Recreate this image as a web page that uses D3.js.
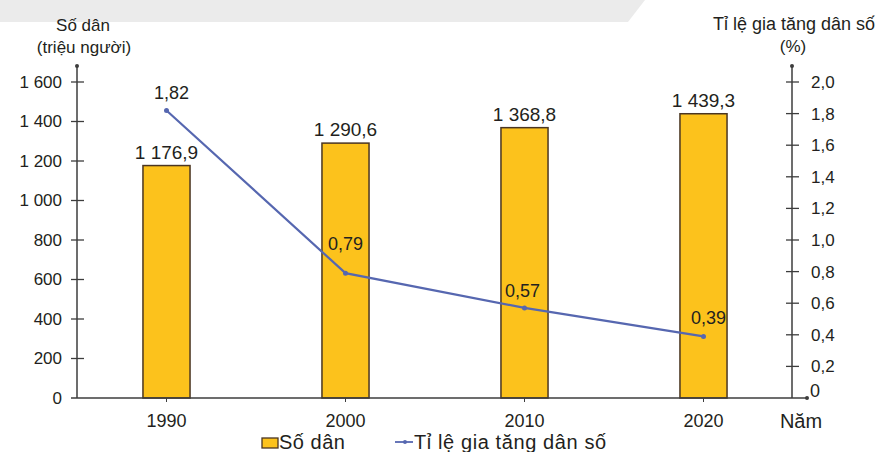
<!DOCTYPE html>
<html lang="vi">
<head>
<meta charset="UTF-8">
<title>Số dân và tỉ lệ gia tăng dân số</title>
<script src="https://d3js.org/d3.v7.min.js"></script>
<style>
  body { margin: 0; background: #fff; }
  svg { display: block; font-family: "Liberation Sans", Arial, sans-serif; }
  text { fill: #231f20; }
</style>
</head>
<body>
<div id="chart"></div>
<script>
// dữ liệu
const years = ["1990", "2000", "2010", "2020"];
const population = [1176.9, 1290.6, 1368.8, 1439.3];
const growthRate = [1.82, 0.79, 0.57, 0.39];
const popTicks = [0, 200, 400, 600, 800, 1000, 1200, 1400, 1600];
const rateTicks = [0, 0.2, 0.4, 0.6, 0.8, 1.0, 1.2, 1.4, 1.6, 1.8, 2.0];

// vị trí nhãn của đường (dx, dy so với điểm)
const rateLabelOffset = [[5, -11], [0, -23], [-2, -11], [5, -12]];

const width = 888, height = 452;
const x0 = 77, x1 = 793, yBase = 398, yTop = 82;

const vn = d3.formatLocale({ decimal: ",", thousands: " ", grouping: [3], currency: ["", ""] });
const fmtPop = vn.format(",.1f");
const fmtInt = vn.format(",d");
const fmtRate1 = vn.format(".1f");
const fmtRate2 = vn.format(".2f");

const svg = d3.select("#chart").append("svg")
  .attr("width", width).attr("height", height);

// dải xám phía trên
svg.append("path")
  .attr("d", "M0,0 L645,0 L628,22 L0,22 Z")
  .attr("fill", "#ebebeb");

const x = d3.scaleBand().domain(years).range([x0, x1])
  .paddingInner(0.737).paddingOuter(0.3685);
const yPop = d3.scaleLinear().domain([0, 1600]).range([yBase, yTop]);
const yRate = d3.scaleLinear().domain([0, 2.0]).range([yBase, yTop]);

const axisColor = "#3d3d3d";

// cột
svg.selectAll(".bar").data(population).enter().append("rect")
  .attr("class", "bar")
  .attr("x", (d, i) => x(years[i]))
  .attr("y", d => yPop(d))
  .attr("width", x.bandwidth())
  .attr("height", d => yBase - yPop(d))
  .attr("fill", "#fcc21c")
  .attr("stroke", "#4a3522")
  .attr("stroke-width", 1.5);

svg.selectAll(".barlabel").data(population).enter().append("text")
  .attr("x", (d, i) => x(years[i]) + x.bandwidth() / 2)
  .attr("y", d => yPop(d) - 7)
  .attr("text-anchor", "middle")
  .attr("font-size", 19)
  .text(d => fmtPop(d));

// trục trái
const leftAxis = d3.axisLeft(yPop).tickValues(popTicks).tickSize(0).tickPadding(15)
  .tickFormat(d => fmtInt(d));
const gl = svg.append("g").attr("transform", `translate(${x0},0)`).call(leftAxis);
gl.select(".domain").remove();
gl.selectAll("text").attr("font-size", 17).attr("fill", "#231f20").attr("font-family", null);
svg.append("g").selectAll("line").data(popTicks.slice(1)).enter().append("line")
  .attr("x1", x0 - 6).attr("x2", x0 + 7)
  .attr("y1", d => yPop(d)).attr("y2", d => yPop(d))
  .attr("stroke", axisColor).attr("stroke-width", 1.3);
svg.append("line").attr("x1", x0).attr("x2", x0).attr("y1", yBase).attr("y2", 66)
  .attr("stroke", axisColor).attr("stroke-width", 1.5);
svg.append("circle").attr("cx", x0).attr("cy", 66).attr("r", 2).attr("fill", axisColor);

// trục phải
const xr = 792;
const rightAxis = d3.axisRight(yRate).tickValues(rateTicks.slice(1)).tickSize(0).tickPadding(19)
  .tickFormat(d => fmtRate1(d));
const gr = svg.append("g").attr("transform", `translate(${xr},0)`).call(rightAxis);
gr.select(".domain").remove();
gr.selectAll("text").attr("font-size", 17).attr("fill", "#231f20").attr("font-family", null);
svg.append("text").attr("x", 810).attr("y", 397).attr("font-size", 18).text(fmtInt(rateTicks[0]));
svg.append("g").selectAll("line").data(rateTicks.slice(1)).enter().append("line")
  .attr("x1", xr - 6).attr("x2", xr + 7)
  .attr("y1", d => yRate(d)).attr("y2", d => yRate(d))
  .attr("stroke", axisColor).attr("stroke-width", 1.3);
svg.append("line").attr("x1", xr).attr("x2", xr).attr("y1", yBase).attr("y2", 66)
  .attr("stroke", axisColor).attr("stroke-width", 1.5);
svg.append("circle").attr("cx", xr).attr("cy", 66).attr("r", 2).attr("fill", axisColor);

// trục hoành
const bottomAxis = d3.axisBottom(x).tickSize(4).tickPadding(12);
const gb = svg.append("g").attr("transform", `translate(0,${yBase})`).call(bottomAxis);
gb.select(".domain").remove();
gb.selectAll("line").attr("stroke", axisColor);
gb.selectAll("text").attr("font-size", 18).attr("fill", "#231f20").attr("font-family", null);
svg.append("line").attr("x1", x0 - 6).attr("x2", 807).attr("y1", yBase).attr("y2", yBase)
  .attr("stroke", axisColor).attr("stroke-width", 1.5);
svg.append("circle").attr("cx", 807).attr("cy", yBase).attr("r", 2).attr("fill", axisColor);
svg.append("text").attr("x", 801).attr("y", 428).attr("text-anchor", "middle")
  .attr("font-size", 20).text("Năm");

// đường tỉ lệ gia tăng
const lineColor = "#5667b0";
const cx = i => x(years[i]) + x.bandwidth() / 2;
const line = d3.line().x((d, i) => cx(i)).y(d => yRate(d));
svg.append("path").datum(growthRate)
  .attr("d", line).attr("fill", "none")
  .attr("stroke", lineColor).attr("stroke-width", 2.2);
svg.selectAll(".pt").data(growthRate).enter().append("circle")
  .attr("cx", (d, i) => cx(i)).attr("cy", d => yRate(d)).attr("r", 2.5)
  .attr("fill", lineColor);
svg.selectAll(".ratelabel").data(growthRate).enter().append("text")
  .attr("x", (d, i) => cx(i) + rateLabelOffset[i][0])
  .attr("y", (d, i) => yRate(d) + rateLabelOffset[i][1])
  .attr("text-anchor", "middle")
  .attr("font-size", 18)
  .text(d => fmtRate2(d));

// tiêu đề trục
svg.append("text").attr("x", 83).attr("y", 31).attr("text-anchor", "middle")
  .attr("font-size", 17).text("Số dân");
svg.append("text").attr("x", 84).attr("y", 53).attr("text-anchor", "middle")
  .attr("font-size", 17).text("(triệu người)");
svg.append("text").attr("x", 794).attr("y", 30).attr("text-anchor", "middle")
  .attr("font-size", 18).text("Tỉ lệ gia tăng dân số");
svg.append("text").attr("x", 793).attr("y", 52).attr("text-anchor", "middle")
  .attr("font-size", 17).text("(%)");

// chú giải
const lg = svg.append("g");
lg.append("rect").attr("x", 262).attr("y", 438).attr("width", 16).attr("height", 10)
  .attr("fill", "#fcc21c").attr("stroke", "#4a3522").attr("stroke-width", 1.3);
lg.append("text").attr("x", 279).attr("y", 449).attr("font-size", 20)
  .attr("letter-spacing", 0.5).text("Số dân");
lg.append("line").attr("x1", 395).attr("x2", 413).attr("y1", 442).attr("y2", 442)
  .attr("stroke", lineColor).attr("stroke-width", 1.8);
lg.append("circle").attr("cx", 405).attr("cy", 442).attr("r", 2).attr("fill", lineColor);
lg.append("text").attr("x", 414).attr("y", 449).attr("font-size", 20)
  .attr("letter-spacing", 0.6).text("Tỉ lệ gia tăng dân số");
</script>
</body>
</html>
